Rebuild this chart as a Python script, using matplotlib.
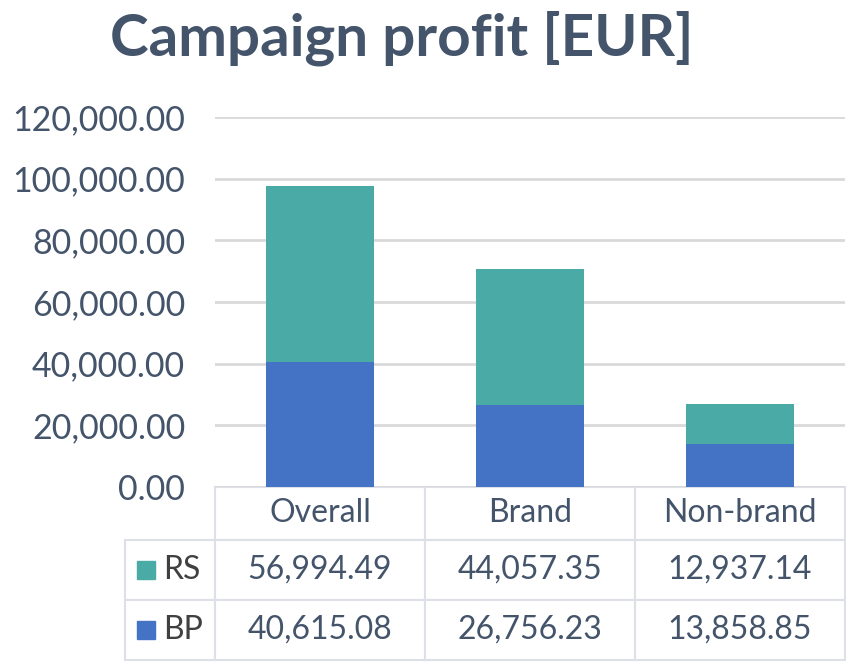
import matplotlib
matplotlib.use("Agg")
import matplotlib.pyplot as plt
from matplotlib.ticker import FuncFormatter, MultipleLocator
from matplotlib.patches import Rectangle

categories = ["Overall", "Brand", "Non-brand"]
series_names = ["RS", "BP"]
bp_values = [40615.08, 26756.23, 13858.85]
rs_values = [56994.49, 44057.35, 12937.14]
title = "Campaign profit [EUR]"

TEXT = "#44546a"
GRID = "#d9d9d9"
BLUE = "#4472c4"
TEAL = "#4aaaa5"
FONT = "Lato"

plt.rcParams['font.family'] = [FONT, 'DejaVu Sans']

W, H = 846, 665
fig = plt.figure(figsize=(W / 100, H / 100), dpi=100)
ax_l, ax_r, ax_t, ax_b = 215, 845, 117, 487
ax = fig.add_axes([ax_l / W, 1 - ax_b / H, (ax_r - ax_l) / W, (ax_b - ax_t) / H])

x = list(range(len(categories)))
ax.bar(x, bp_values, width=0.51, color=BLUE, zorder=3)
ax.bar(x, rs_values, width=0.51, bottom=bp_values, color=TEAL, zorder=3)

ax.set_xlim(-0.5, len(categories) - 0.5)
ax.set_ylim(0, 120000)
ax.yaxis.set_major_locator(MultipleLocator(20000))
ax.yaxis.set_major_formatter(FuncFormatter(lambda v, p: f"{v:,.2f}"))
ax.grid(axis="y", color=GRID, linewidth=2, zorder=0)
for s in ax.spines.values():
    s.set_visible(False)
ax.tick_params(axis="y", length=0, labelsize=24.5, labelcolor=TEXT, pad=21.5)
ax.set_xticks([])

fig.text(402 / W, 1 - 38 / H, title, ha="center", va="center", fontsize=42,
         fontweight="bold", color=TEXT)

# data table below the axes
cell_text = [[""] + categories]
for name, vals in zip(series_names, [rs_values, bp_values]):
    cell_text.append([name] + [f"{v:,.2f}" for v in vals])

left_px = 125
table_bottom = 660
aw = ax_r - ax_l
ah = ax_b - ax_t
bbox = [(left_px - ax_l) / aw, -(table_bottom - ax_b) / ah,
        (ax_r - left_px) / aw, (table_bottom - ax_b) / ah]
col_w = [(ax_l - left_px) / (ax_r - left_px)] + [(aw / 3) / (ax_r - left_px)] * 3
tbl = ax.table(cellText=cell_text, colWidths=col_w, bbox=bbox, cellLoc="center")
tbl.auto_set_font_size(False)
row_h = [53, 60, 60]
for (r, c), cell in tbl.get_celld().items():
    cell.set_edgecolor("#dde1e7")
    cell.set_linewidth(1.5)
    cell.set_height(row_h[r])
    cell.get_text().set_fontsize(23)
    cell.get_text().set_color(TEXT)
    if r == 0 and c == 0:
        cell.visible_edges = ""
    if c == 0 and r > 0:
        cell.get_text().set_color("#404040")
        cell.get_text().set_ha("left")
        cell._loc = "left"
        cell.PAD = 0.42

# legend keys in row label cells
colors = [TEAL, BLUE]
row_centers = [540 + 30, 600 + 30]
for col, yc in zip(colors, row_centers):
    fig.patches.append(Rectangle((137 / W, 1 - (yc + 9) / H), 18 / W, 18 / H,
                                 transform=fig.transFigure, color=col, figure=fig))

fig.savefig("out.png", dpi=100)
